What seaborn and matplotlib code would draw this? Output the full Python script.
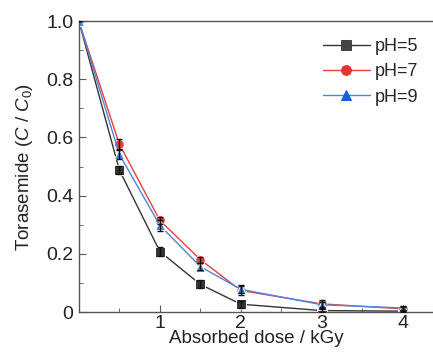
import matplotlib
matplotlib.use("Agg")
import matplotlib.pyplot as plt
from matplotlib.ticker import MultipleLocator
import pandas as pd
import seaborn as sns

dose = [0, 0.5, 1, 1.5, 2, 3, 4]
ph5 = [1.0, 0.488, 0.208, 0.095, 0.027, 0.005, 0.003]
ph7 = [1.0, 0.577, 0.315, 0.180, 0.074, 0.028, 0.011]
ph9 = [1.0, 0.542, 0.298, 0.156, 0.078, 0.025, 0.014]
err5 = [0, 0.014, 0.015, 0.014, 0.012, 0.004, 0.003]
err7 = [0, 0.016, 0.012, 0.010, 0.016, 0.012, 0.006]
err9 = [0, 0.015, 0.018, 0.012, 0.014, 0.010, 0.008]
labels = ["pH=5", "pH=7", "pH=9"]

rows = []
for lab, vals, errs in zip(labels, [ph5, ph7, ph9], [err5, err7, err9]):
    for d, v, e in zip(dose, vals, errs):
        rows.append({"dose": d, "ratio": v, "err": e, "series": lab})
df = pd.DataFrame(rows)

sns.set_style("ticks")
plt.rcParams["font.family"] = ["Liberation Sans", "DejaVu Sans"]
plt.rcParams["mathtext.fontset"] = "custom"
plt.rcParams["mathtext.it"] = "Liberation Sans:italic"
plt.rcParams["mathtext.rm"] = "Liberation Sans"

line_cols = {"pH=5": "#333333", "pH=7": "#e8403a", "pH=9": "#4a86e0"}
mark_cols = {"pH=5": "#444444", "pH=7": "#e8322f", "pH=9": "#1a5fd6"}
markers = {"pH=5": "s", "pH=7": "o", "pH=9": "^"}

fig = plt.figure(figsize=(4.33, 3.53), dpi=100)
ax = fig.add_axes([0.182, 0.116, 0.818, 0.8245])

for lab in labels:
    sub = df[df.series == lab]
    ax.errorbar(sub.dose, sub.ratio, yerr=sub.err, fmt="none", ecolor="#111111",
                elinewidth=1, capsize=2, zorder=3)

sns.lineplot(data=df, x="dose", y="ratio", hue="series", style="series",
             palette=line_cols, markers=markers, dashes=False, ax=ax,
             linewidth=1, markersize=7, zorder=2)

# recolour the markers
for line, lab in zip(ax.get_lines()[-3:], labels):
    line.set_markerfacecolor(mark_cols[lab])
    line.set_markeredgecolor(mark_cols[lab])

ax.set_xlim(0, 4.37)
ax.set_ylim(0, 1.0)
ax.set_xticks([1, 2, 3, 4])
ax.set_xticklabels(["1", "2", "3", "4"])
ax.set_yticks([0, 0.2, 0.4, 0.6, 0.8, 1.0])
ax.set_yticklabels(["0", "0.2", "0.4", "0.6", "0.8", "1.0"])
ax.xaxis.set_minor_locator(MultipleLocator(0.5))
ax.yaxis.set_minor_locator(MultipleLocator(0.1))
ax.tick_params(which="both", direction="in", color="#555555", labelsize=14,
               labelcolor="#222222")
ax.tick_params(which="major", length=5)
ax.tick_params(which="minor", length=3)
ax.tick_params(axis="x", pad=2)
ax.tick_params(axis="y", pad=4)
for s in ["left", "bottom", "top"]:
    ax.spines[s].set_color("#555555")
    ax.spines[s].set_linewidth(1)
ax.spines["right"].set_visible(False)

ax.set_xlabel("Absorbed dose / kGy", fontsize=13.5, color="#222222", labelpad=-1)
ax.set_ylabel(r"Torasemide ($C$ / $C_0$)", fontsize=13.5, color="#222222", labelpad=8)

leg = ax.legend(loc="upper right", frameon=False, fontsize=13, handlelength=2.6,
                handletextpad=0.3, borderaxespad=0.4, labelspacing=0.45,
                bbox_to_anchor=(1.0, 0.99))
for h, lab in zip(leg.legend_handles, labels):
    h.set_markerfacecolor(mark_cols[lab])
    h.set_markeredgecolor(mark_cols[lab])

fig.savefig("out.png", dpi=100)
